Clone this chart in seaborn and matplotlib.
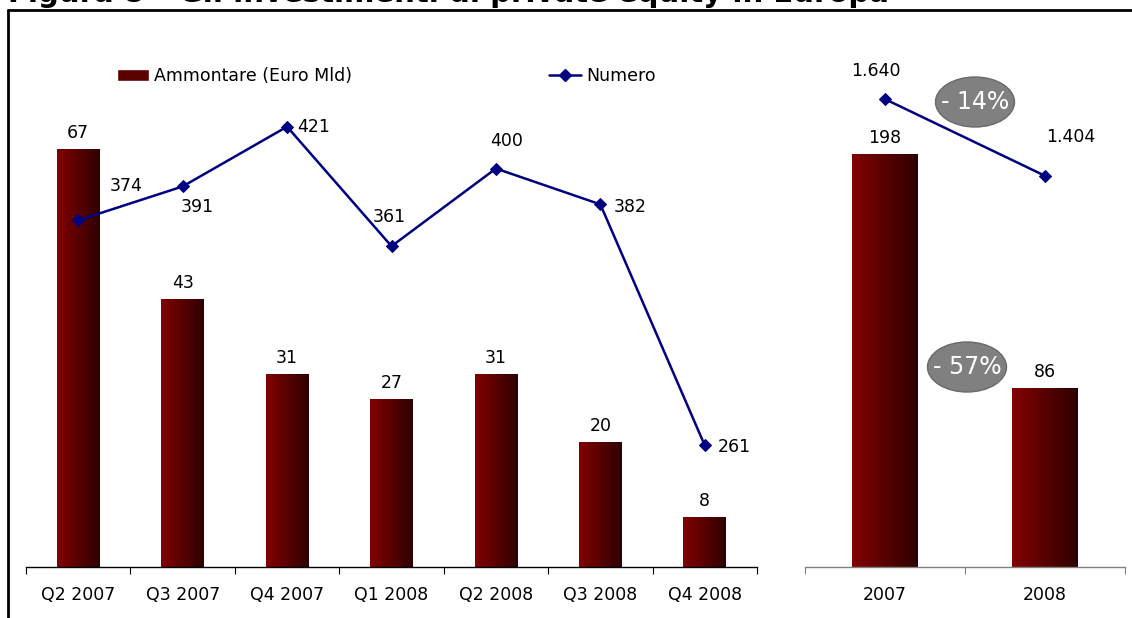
import numpy as np
import seaborn as sns
import matplotlib.pyplot as plt
from matplotlib.patches import Patch, Ellipse
from matplotlib.lines import Line2D
from matplotlib.colors import LinearSegmentedColormap

# data
quarters = ["Q2 2007", "Q3 2007", "Q4 2007", "Q1 2008", "Q2 2008", "Q3 2008", "Q4 2008"]
ammontare_q = [67, 43, 31, 27, 31, 20, 8]
numero_q = [374, 391, 421, 361, 400, 382, 261]
years = ["2007", "2008"]
ammontare_y = [198, 86]
numero_y = [1640, 1404]
change_labels = ["- 14%", "- 57%"]
title = "Figura 8 \u2013 Gli investimenti di private equity in Europa"

sns.set_theme(style="ticks")
plt.rcParams['font.family'] = ['DejaVu Sans']
plt.rcParams.update({'text.color': 'black', 'xtick.color': 'black',
                     'axes.labelcolor': 'black'})

W, H = 1132, 618
FS = 12.5
NAVY = '#000080'


def fr(x0, y0, x1, y1):
    return [x0 / W, 1 - y1 / H, (x1 - x0) / W, (y1 - y0) / H]


def it_num(v):
    return f"{v:,}".replace(",", ".")


def paint_bars(ax):
    cmap = LinearSegmentedColormap.from_list('bar', ['#820000', '#2e0000'])
    grad = np.linspace(0, 1, 64).reshape(1, -1)
    for p in list(ax.patches):
        x0, y0 = p.get_xy()
        im = ax.imshow(grad, extent=[x0, x0 + p.get_width(), y0, y0 + p.get_height()],
                       aspect='auto', cmap=cmap, origin='lower',
                       zorder=p.get_zorder() + 0.1, interpolation='bilinear')
        im.set_clip_path(p)


def style_axis(ax, ncat, spine_color):
    ax.set_xlim(-0.5, ncat - 0.5)
    ax.set_xticks(np.arange(-0.5, ncat, 1), minor=True)
    ax.tick_params(axis='x', which='major', length=0, pad=14, labelsize=FS, labelcolor='black')
    ax.tick_params(axis='x', which='minor', length=5, width=0.8, color=spine_color, bottom=True)
    ax.set_yticks([])
    ax.set_xlabel('')
    ax.set_ylabel('')
    sns.despine(ax=ax, left=True)
    ax.spines['bottom'].set_color(spine_color)
    ax.spines['bottom'].set_linewidth(1)
    ax.patch.set_alpha(0)


def draw_panel(ax, cats, bars, line, bar_top, line_lim, offsets, spine_color, fmt):
    sns.barplot(x=cats, y=bars, ax=ax, color='#600000', width=0.41, saturation=1)
    paint_bars(ax)
    ax.bar_label(ax.containers[0], padding=5, fontsize=FS, color='black')
    ax.set_ylim(0, bar_top)
    style_axis(ax, len(cats), spine_color)

    ax2 = ax.twinx()
    xs = np.arange(len(cats))
    sns.lineplot(x=xs, y=line, ax=ax2, color=NAVY, linewidth=1.8, marker='D',
                 markersize=6.5, markeredgecolor=NAVY)
    ax2.set_xlim(-0.5, len(cats) - 0.5)
    ax2.set_ylim(*line_lim)
    ax2.set_axis_off()
    for x, v, (dx, dy) in zip(xs, line, offsets):
        ax2.annotate(fmt(v), (x, v), xytext=(dx * 0.72, dy * 0.72), color='black',
                     textcoords='offset points', ha='center', va='center', fontsize=FS)


fig = plt.figure(figsize=(11.32, 6.18), dpi=100)

ax_q = fig.add_axes(fr(26, 40, 757, 567))
draw_panel(ax_q, quarters, ammontare_q, numero_q, 84.5, (200, 464.5),
           [(48, 34), (15, -21), (27, 0), (-2, 29), (11, 28), (30, -3), (30, -2)],
           'black', str)

ax_y = fig.add_axes(fr(805, 40, 1125, 567))
draw_panel(ax_y, years, ammontare_y, numero_y, 252.6, (200, 1822),
           [(-9, 28), (26, 39)], '#808080', it_num)

# legend
handles = [Patch(facecolor='#5c0000'),
           Line2D([], [], color=NAVY, marker='D', lw=1.8, ms=6)]
fig.legend(handles, ["Ammontare (Euro Mld)", "Numero"], loc='center left',
           bbox_to_anchor=(117 / W, 1 - 76 / H), ncol=2, frameon=False, fontsize=FS,
           handlelength=1.85, handletextpad=0.3, columnspacing=11.3,
           borderpad=0, borderaxespad=0)

# change bubbles
for label, (cx, cy) in zip(change_labels, [(975, 102), (967, 367)]):
    fig.add_artist(Ellipse((cx / W, 1 - cy / H), 79 / W, 50 / H, transform=fig.transFigure,
                           facecolor='#808080', edgecolor='#6a6a6a', lw=1))
    fig.text(cx / W, 1 - cy / H, label, color='white', fontsize=17, ha='center', va='center')

# frame and the title, clipped at the top edge as in the source
fig.add_artist(Line2D([8 / W, 1], [1 - 10 / H, 1 - 10 / H], transform=fig.transFigure,
                      color='black', lw=2))
fig.add_artist(Line2D([8 / W, 8 / W], [0, 1 - 10 / H], transform=fig.transFigure,
                      color='black', lw=2))
fig.text(8 / W, 1 - 1.5 / H, title, fontsize=21, fontweight='bold', ha='left', va='baseline')

fig.savefig('out.png', dpi=100)
